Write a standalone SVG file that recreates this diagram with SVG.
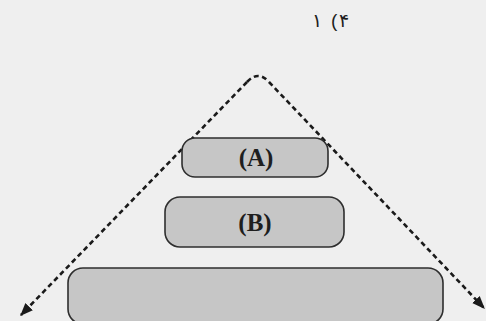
<svg xmlns="http://www.w3.org/2000/svg" width="486" height="321" viewBox="0 0 486 321" direction="ltr">
<defs>
<marker id="ah" viewBox="0 0 10 10" refX="9" refY="5" markerWidth="5" markerHeight="5" orient="auto" markerUnits="strokeWidth">
<path d="M0,1 L10,5 L0,9 Z" fill="#1a1a1a"/>
</marker>
</defs>
<style>
.box{fill:#c6c6c6;stroke:#2e2e2e;stroke-width:1.6}
.lbl{font-family:"Liberation Serif",serif;font-weight:bold;font-size:25px;fill:#1e1e1e;text-anchor:middle}
.dash{fill:none;stroke:#1a1a1a;stroke-width:2.6;stroke-dasharray:5 3.5}
.top{font-family:"DejaVu Sans",sans-serif;font-size:19px;fill:#1e1e1e}
</style>
<rect width="486" height="321" fill="#efefef"/>
<g id="label-top">
<text class="top" x="312" y="27">۱</text>
<text x="331" y="27" style="font-family:'Liberation Sans',sans-serif;font-size:19px;fill:#1e1e1e;direction:ltr;unicode-bidi:isolate">(</text>
<text class="top" x="339" y="27">۴</text>
</g>
<g id="connectors">
<path class="dash" d="M247,82 L21,315" marker-end="url(#ah)"/>
<path class="dash" d="M247,82 Q258,70 269,82"/>
<path class="dash" d="M269,82 L484,308" marker-end="url(#ah)"/>
</g>
<g id="nodeA">
<rect class="box" x="182" y="138" width="146" height="39" rx="13"/>
<text class="lbl" x="256" y="166">(A)</text>
</g>
<g id="nodeB">
<rect class="box" x="165" y="197" width="179" height="50" rx="15"/>
<text class="lbl" x="255" y="231">(B)</text>
</g>
<g id="nodeC">
<rect class="box" x="68" y="268" width="375" height="56" rx="15"/>
</g>
</svg>
